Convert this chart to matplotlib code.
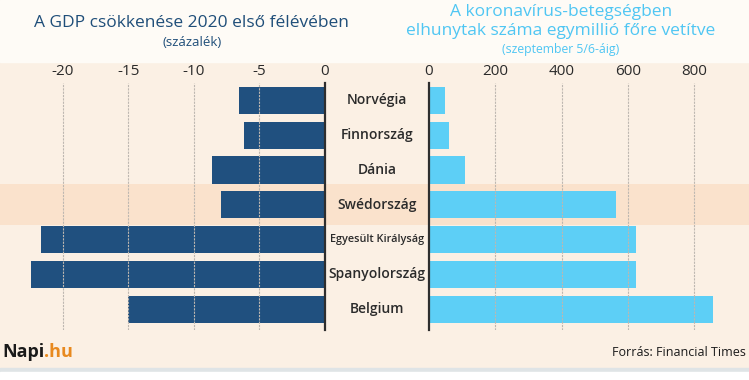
import numpy as np
import matplotlib.pyplot as plt
from matplotlib.patches import Rectangle

# data
countries = ["Norvégia", "Finnország", "Dánia", "Swédország",
             "Egyesült Királyság", "Spanyolország", "Belgium"]
gdp_drop = [-6.6, -6.2, -8.6, -7.9, -21.7, -22.4, -15.0]
deaths_per_million = [48, 60, 108, 565, 624, 624, 856]
gdp_ticks = [-20, -15, -10, -5, 0]
death_ticks = [0, 200, 400, 600, 800]
highlight = "Swédország"

BG = "#fbf0e4"
HEADER = "#fefbf6"
BAND = "#fae2cc"
DARK_BLUE = "#20507f"
LIGHT_BLUE = "#5dcff6"
TITLE_BLUE = "#1f4e79"
TITLE_CYAN = "#4fc6f3"
GRID = "#bdb7b0"

plt.rcParams["font.family"] = ["Open Sans", "DejaVu Sans"]

W, H = 749, 380
fig = plt.figure(figsize=(W / 100, H / 100), dpi=100)
fig.patch.set_facecolor(BG)


def px(x0, y0, x1, y1):
    # pixel box (top-left origin) -> figure rect
    return [x0 / W, 1 - y1 / H, (x1 - x0) / W, (y1 - y0) / H]


# header, bottom strip
fig.add_artist(Rectangle((0, 1 - 62 / H), 1, 62 / H, transform=fig.transFigure,
                         color=HEADER, zorder=0))
fig.add_artist(Rectangle((0, 1 - 372 / H), 1, 4 / H, transform=fig.transFigure,
                         color="#dfe4e6", zorder=0))
fig.add_artist(Rectangle((0, 0), 1, 8 / H, transform=fig.transFigure,
                         color="white", zorder=0))

y = np.arange(len(countries))
ylim = (6.6, -0.5)
hi = countries.index(highlight)

# background axes for the highlight band and the labels
bg = fig.add_axes(px(0, 83, W, 330))
bg.set_xlim(0, W)
bg.set_ylim(*ylim)
bg.axis("off")
bg.axhspan(hi - 0.59, hi + 0.59, color=BAND, lw=0, zorder=0)
for i, c in enumerate(countries):
    small = len(c) > 15
    bg.text(377, i, c, ha="center", va="center",
            fontsize=7.8 if small else 10, fontweight="semibold",
            color="#2b2b2b")

# left panel: GDP
axl = fig.add_axes(px(0, 83, 325, 330))
axl.patch.set_alpha(0)
axl.barh(y, gdp_drop, height=0.78, color=DARK_BLUE, zorder=2)
axl.set_xlim(-24.8, 0)
axl.set_ylim(*ylim)

# right panel: deaths
axr = fig.add_axes(px(429, 83, W, 330))
axr.patch.set_alpha(0)
axr.barh(y, deaths_per_million, height=0.78, color=LIGHT_BLUE, zorder=2)
axr.set_xlim(0, 965)
axr.set_ylim(*ylim)

for ax, ticks, zero_side in ((axl, gdp_ticks, "right"), (axr, death_ticks, "left")):
    for s in ax.spines.values():
        s.set_visible(False)
    ax.spines[zero_side].set_visible(True)
    ax.spines[zero_side].set_color("#2e2e2e")
    ax.spines[zero_side].set_linewidth(1.6)
    ax.spines[zero_side].set_zorder(4)
    ax.set_yticks([])
    ax.xaxis.tick_top()
    ax.set_xticks(ticks)
    ax.set_xticklabels([str(t) for t in ticks])
    ax.tick_params(axis="x", length=0, pad=3, labelsize=11, colors="#2b2b2b")
    for t in ticks:
        if t != 0:
            ax.axvline(t, color=GRID, lw=0.8, ls=(0, (2, 1)), zorder=3)

# titles
fig.text(191 / W, 1 - 23 / H, "A GDP csökkenése 2020 első félévében",
         ha="center", va="center", fontsize=12.5, color=TITLE_BLUE)
fig.text(192 / W, 1 - 43 / H, "(százalék)", ha="center", va="center",
         fontsize=9.5, color=TITLE_BLUE)
fig.text(561 / W, 1 - 12 / H, "A koronavírus-betegségben",
         ha="center", va="center", fontsize=12.5, color=TITLE_CYAN)
fig.text(561 / W, 1 - 31 / H, "elhunytak száma egymillió főre vetítve",
         ha="center", va="center", fontsize=12.5, color=TITLE_CYAN)
fig.text(561 / W, 1 - 50 / H, "(szeptember 5/6-áig)",
         ha="center", va="center", fontsize=8.8, color=TITLE_CYAN)

# footer
t1 = fig.text(2 / W, 1 - 352 / H, "Napi", ha="left", va="center",
              fontsize=13, fontweight="bold", color="#1a1a1a")
fig.canvas.draw()
bb = t1.get_window_extent()
fig.text(bb.x1 / W, 1 - 352 / H, ".hu", ha="left", va="center",
         fontsize=13, fontweight="bold", color="#e8891e")
fig.text(746 / W, 1 - 353 / H, "Forrás: Financial Times", ha="right",
         va="center", fontsize=9, color="#1a1a1a")

fig.savefig("out.png", dpi=100, facecolor=fig.get_facecolor())
